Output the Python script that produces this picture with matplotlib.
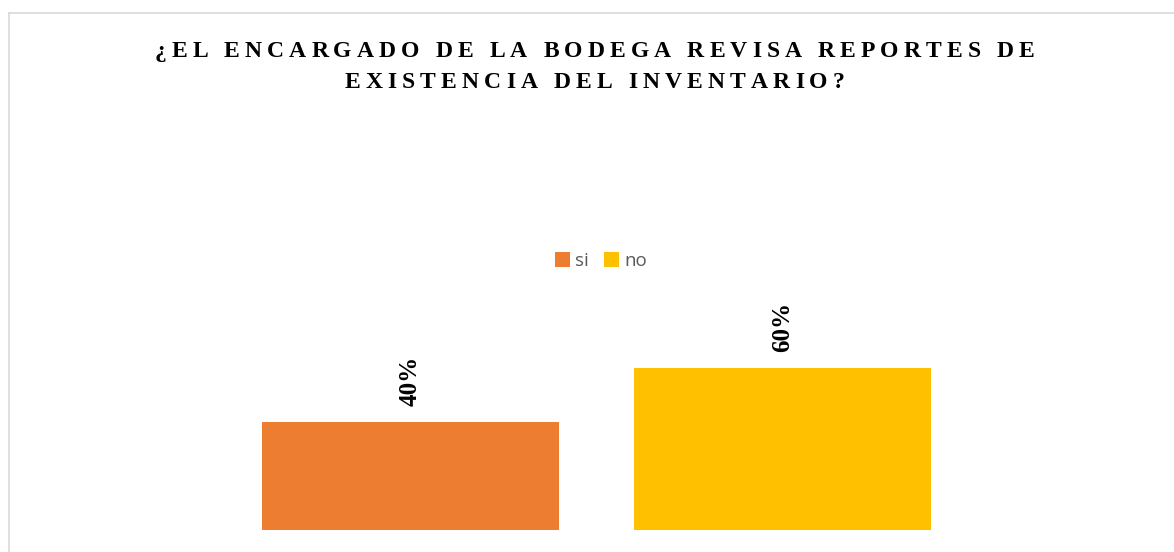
import matplotlib
matplotlib.use("Agg")
import matplotlib.pyplot as plt
from matplotlib.patches import Patch
from matplotlib.lines import Line2D
from matplotlib import font_manager
from matplotlib.font_manager import FontProperties
from matplotlib.ft2font import FT2Font, LoadFlags

categories = ["si", "no"]
values = [0.40, 0.60]
labels = ["40%", "60%"]
colors = ["#ED7D31", "#FFC000"]
title_lines = ["¿EL ENCARGADO DE LA BODEGA REVISA REPORTES DE",
               "EXISTENCIA DEL INVENTARIO?"]

W, H = 1174, 552
DPI = 100
fig = plt.figure(figsize=(W / DPI, H / DPI), dpi=DPI)

def fx(px):
    return px / W

def fy(py):
    return 1 - py / H

# chart frame (top and left border visible)
fig.add_artist(Line2D([fx(9), fx(W)], [fy(13), fy(13)], color="#D9D9D9", lw=1.2))
fig.add_artist(Line2D([fx(9), fx(9)], [fy(13), fy(H)], color="#D9D9D9", lw=1.2))

# axes: x = 0 at 410.5 px, x = 1 at 782.5 px; y = 0 at 530 px
ax_left, ax_right = 224.5, 968.5
ax_bottom, ax_top = 530, 260
ax = fig.add_axes([fx(ax_left), fy(ax_bottom), fx(ax_right - ax_left), (ax_bottom - ax_top) / H])
ax.set_xlim(-0.5, 1.5)
ax.set_ylim(0, 1.0)
ax.axis("off")

xs = list(range(len(categories)))
bars = ax.bar(xs, values, width=0.8, color=colors)
for b, lab in zip(bars, labels):
    ax.annotate(lab, (b.get_x() + b.get_width() / 2, b.get_height()),
                xytext=(0, 11.5), textcoords="offset points",
                ha="center", va="bottom", rotation=90,
                fontfamily="Liberation Serif", fontweight="bold", fontsize=18, color="black")

# letter-spaced title
TFS = 17
fprop = FontProperties(family="Liberation Serif", weight="bold")
fpath = font_manager.findfont(fprop)
ft = FT2Font(fpath)
ft.set_size(TFS, DPI)

def advances(s):
    out = []
    for c in s:
        g = ft.load_char(ord(c), flags=LoadFlags.NO_HINTING)
        out.append(g.linearHoriAdvance / 65536)
    return out

adv1 = advances(title_lines[0])
track = (880 - sum(adv1)) / (len(adv1) - 1)
center_x = 594.5
baselines = [57, 88]
for line, base in zip(title_lines, baselines):
    adv = advances(line)
    total = sum(adv) + track * (len(adv) - 1)
    x = center_x - total / 2
    for c, a in zip(line, adv):
        if c != " ":
            fig.text(fx(x), fy(base), c, ha="left", va="baseline",
                     fontproperties=fprop, fontsize=TFS, color="black")
        x += a + track

handles = [Patch(facecolor=c, edgecolor="none", label=cat) for c, cat in zip(colors, categories)]
leg = fig.legend(handles=handles, loc="center", bbox_to_anchor=(fx(601), fy(261)),
                 ncol=2, frameon=False, prop={"family": "Open Sans", "size": 13.5},
                 handlelength=0.78, handleheight=0.78, handletextpad=0.3,
                 columnspacing=0.8, borderpad=0)
for t in leg.get_texts():
    t.set_color("#595959")

fig.savefig("out.png", dpi=DPI, facecolor="white")
